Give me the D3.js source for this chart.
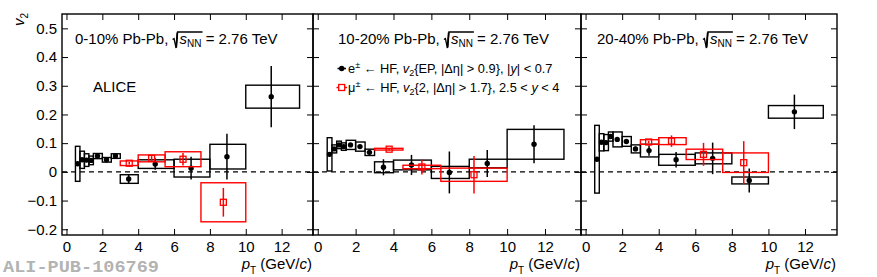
<!DOCTYPE html>
<html>
<head>
<meta charset="utf-8">
<script src="https://cdn.jsdelivr.net/npm/d3@7"></script>
<style>
  body { margin: 0; background: #fff; }
  text { font-family: "Liberation Sans", Arial, Helvetica, sans-serif; fill: #000; }
</style>
</head>
<body>
<div id="chart"></div>
<script>
///////////////////////////////////////////////////////////////////////////
///////////////////////////////// Data ////////////////////////////////////
///////////////////////////////////////////////////////////////////////////

var centralities = ["0-10%", "10-20%", "20-40%"]

// electrons from HF decays, |y| < 0.7 (same pT binning in all classes)
var ptBinsE = [[0.5,0.75],[0.75,1],[1,1.25],[1.25,1.5],[1.5,2],[2,2.5],[2.5,3],[3,4],[4,6],[6,8],[8,10],[10,13]]
var ptE = [0.62, 0.87, 1.12, 1.37, 1.73, 2.23, 2.73, 3.47, 4.95, 6.95, 8.95, 11.42]

var v2E_0010   = [0.028, 0.042, 0.041, 0.040, 0.055, 0.042, 0.055, -0.025, 0.027, 0.013, 0.053, 0.262]
var statE_0010 = [0.005, 0.004, 0.004, 0.004, 0.004, 0.004, 0.004, 0.017, 0.020, 0.040, 0.080, 0.107]
var systE_0010 = [0.061, 0.030, 0.022, 0.015, 0.009, 0.008, 0.008, 0.015, 0.015, 0.031, 0.043, 0.040]

var v2E_1020   = [0.061, 0.080, 0.094, 0.088, 0.094, 0.088, 0.068, 0.016, 0.024, -0.002, 0.029, 0.096]
var statE_1020 = [0.006, 0.005, 0.005, 0.005, 0.005, 0.005, 0.009, 0.028, 0.035, 0.073, 0.047, 0.066]
var systE_1020 = [0.058, 0.014, 0.013, 0.013, 0.016, 0.016, 0.011, 0.019, 0.017, 0.021, 0.015, 0.052]

var v2E_2040   = [0.044, 0.103, 0.102, 0.123, 0.113, 0.106, 0.080, 0.074, 0.042, 0.047, -0.030, 0.209]
var statE_2040 = [0.006, 0.006, 0.006, 0.006, 0.005, 0.005, 0.008, 0.018, 0.027, 0.055, 0.042, 0.060]
var systE_2040 = [0.118, 0.030, 0.028, 0.016, 0.026, 0.017, 0.014, 0.022, 0.019, 0.019, 0.012, 0.022]

// muons from HF decays, 2.5 < y < 4
var ptBinsMu_0010 = [[3,4],[4,5.5],[5.5,7.5],[7.5,10]]
var ptMu_0010   = [3.5, 4.75, 6.5, 8.75]
var v2Mu_0010   = [0.030, 0.047, 0.044, -0.106]
var statMu_0010 = [0.004, 0.008, 0.022, 0.050]
var systMu_0010 = [0.008, 0.012, 0.026, 0.068]

var ptBinsMu_1020 = [[3,4.5],[4.5,6.5],[6.5,10]]
var ptMu_1020   = [3.77, 5.5, 8.25]
var v2Mu_1020   = [0.079, 0.017, -0.010]
var statMu_1020 = [0.004, 0.026, 0.065]
var systMu_1020 = [0.003, 0.006, 0.023]

var ptBinsMu_2040 = [[3,4],[4,5.5],[5.5,7.5],[7.5,10]]
var ptMu_2040   = [3.45, 4.7, 6.45, 8.65]
var v2Mu_2040   = [0.104, 0.107, 0.061, 0.032]
var statMu_2040 = [0.004, 0.020, 0.040, 0.075]
var systMu_2040 = [0.008, 0.012, 0.018, 0.034]

var xTicks = [0, 2, 4, 6, 8, 10, 12]
var yTicks = [-0.2, -0.1, 0, 0.1, 0.2, 0.3, 0.4, 0.5]

///////////////////////////////////////////////////////////////////////////
//////////////////////////////// Layout ///////////////////////////////////
///////////////////////////////////////////////////////////////////////////

var totalWidth = 877, totalHeight = 277
var panelEdges = [62, 313, 581, 837]
var ptMax = [13.75, 13.9, 13.75]
var titleX = [75, 338, 597]
var frameTop = 14, frameBottom = 235

var series = [
  { e:  {bins: ptBinsE, pt: ptE, v2: v2E_0010, stat: statE_0010, syst: systE_0010},
    mu: {bins: ptBinsMu_0010, pt: ptMu_0010, v2: v2Mu_0010, stat: statMu_0010, syst: systMu_0010} },
  { e:  {bins: ptBinsE, pt: ptE, v2: v2E_1020, stat: statE_1020, syst: systE_1020},
    mu: {bins: ptBinsMu_1020, pt: ptMu_1020, v2: v2Mu_1020, stat: statMu_1020, syst: systMu_1020} },
  { e:  {bins: ptBinsE, pt: ptE, v2: v2E_2040, stat: statE_2040, syst: systE_2040},
    mu: {bins: ptBinsMu_2040, pt: ptMu_2040, v2: v2Mu_2040, stat: statMu_2040, syst: systMu_2040} }
]

var svg = d3.select("#chart").append("svg")
  .attr("width", totalWidth)
  .attr("height", totalHeight)

var y = d3.scaleLinear()
  .domain([-0.22, 0.55])
  .range([frameBottom, frameTop])

var yMinor = d3.range(-0.22, 0.551, 0.02).map(d => Math.round(d * 100) / 100)

centralities.forEach((c, i) => drawPanel(i))

///////////////////////////////////////////////////////////////////////////
/////////////////////////////// Panels ////////////////////////////////////
///////////////////////////////////////////////////////////////////////////

function drawPanel(i) {

  var x0 = panelEdges[i], x1 = panelEdges[i + 1]
  var x = d3.scaleLinear().domain([-0.25, ptMax[i]]).range([x0, x1])
  var g = svg.append("g")

  g.append("line")
    .attr("x1", x0).attr("x2", x1)
    .attr("y1", y(0)).attr("y2", y(0))
    .attr("stroke", "#000")
    .attr("stroke-width", 1.2)
    .attr("stroke-dasharray", "5,4")

  drawSeries(g, x, series[i].e, "#000", "circle")
  drawSeries(g, x, series[i].mu, "#f00", "square")

  // ticks on all four sides, pointing inwards
  var xMinor = d3.range(0, ptMax[i], 0.4).map(d => Math.round(d * 10) / 10)

  var bottom = g.append("g").attr("transform", "translate(0," + frameBottom + ")")
  bottom.call(d3.axisBottom(x).tickValues(xMinor).tickSize(-3).tickFormat(""))
  bottom.call(d3.axisBottom(x).tickValues(xTicks).tickSize(-6).tickPadding(6).tickFormat(d3.format("d")))

  var top = g.append("g").attr("transform", "translate(0," + frameTop + ")")
  top.call(d3.axisTop(x).tickValues(xMinor).tickSize(-3).tickFormat(""))
  top.call(d3.axisTop(x).tickValues(xTicks).tickSize(-6).tickFormat(""))

  var left = g.append("g").attr("transform", "translate(" + x0 + ",0)")
  left.call(d3.axisLeft(y).tickValues(yMinor).tickSize(-3).tickFormat(""))
  left.call(d3.axisLeft(y).tickValues(yTicks).tickSize(-6).tickPadding(5)
    .tickFormat(d => i === 0 ? (d < 0 ? "\u2212" + Math.abs(d) : String(d)) : ""))

  var right = g.append("g").attr("transform", "translate(" + x1 + ",0)")
  right.call(d3.axisRight(y).tickValues(yMinor).tickSize(-3).tickFormat(""))
  right.call(d3.axisRight(y).tickValues(yTicks).tickSize(-6).tickFormat(""))

  g.selectAll(".domain").remove()
  g.selectAll(".tick line").attr("stroke", "#000").attr("stroke-width", 1)
  g.selectAll(".tick text")
    .attr("font-family", "Liberation Sans, Arial, sans-serif")
    .attr("font-size", 15)
    .attr("fill", "#000")

  g.append("rect")
    .attr("x", x0).attr("y", frameTop)
    .attr("width", x1 - x0).attr("height", frameBottom - frameTop)
    .attr("fill", "none")
    .attr("stroke", "#000")
    .attr("stroke-width", 1.4)

  drawTitle(g, titleX[i], 43.5, centralities[i])

  // x axis title
  var xt = g.append("text")
    .attr("x", x1 - 1).attr("y", 269)
    .attr("text-anchor", "end")
    .style("font-size", "15px")
  xt.append("tspan").style("font-style", "italic").text("p")
  xt.append("tspan").attr("dy", 5).style("font-size", "10px").text("T")
  xt.append("tspan").attr("dy", -5).text(" (GeV/")
  xt.append("tspan").style("font-style", "italic").text("c")
  xt.append("tspan").text(")")
}

function drawSeries(g, x, s, color, marker) {

  var pts = s.pt.map((p, j) => ({
    pt: p, lo: s.bins[j][0], hi: s.bins[j][1],
    v: s.v2[j], stat: s.stat[j], syst: s.syst[j]
  }))

  g.append("g").selectAll("rect")
    .data(pts).join("rect")
    .attr("x", d => x(d.lo))
    .attr("width", d => x(d.hi) - x(d.lo))
    .attr("y", d => y(d.v + d.syst))
    .attr("height", d => y(d.v - d.syst) - y(d.v + d.syst))
    .attr("fill", "none")
    .attr("stroke", color)
    .attr("stroke-width", 1.4)

  g.append("g").selectAll("line")
    .data(pts).join("line")
    .attr("x1", d => x(d.pt)).attr("x2", d => x(d.pt))
    .attr("y1", d => y(d.v + d.stat)).attr("y2", d => y(d.v - d.stat))
    .attr("stroke", color)
    .attr("stroke-width", 1.5)

  if (marker === "circle") {
    g.append("g").selectAll("circle")
      .data(pts).join("circle")
      .attr("cx", d => x(d.pt)).attr("cy", d => y(d.v))
      .attr("r", 2.7)
      .attr("fill", color)
  } else {
    g.append("g").selectAll("rect")
      .data(pts).join("rect")
      .attr("x", d => x(d.pt) - 3).attr("y", d => y(d.v) - 3)
      .attr("width", 6).attr("height", 6)
      .attr("fill", "none")
      .attr("stroke", color)
      .attr("stroke-width", 1.3)
  }
}

function drawTitle(g, tx, ty, cent) {
  var first = cent + " Pb-Pb, "
  var t = g.append("text").attr("x", tx).attr("y", ty).style("font-size", "15px")
  t.append("tspan").text(first)
  t.append("tspan").attr("dx", 7).style("font-style", "italic").text("s")
  t.append("tspan").attr("dy", 3.5).style("font-size", "10px").text("NN")
  t.append("tspan").attr("dy", -3.5).text(" = 2.76 TeV")

  // radical sign and bar over s_NN
  var node = t.node()
  var sx = node.getStartPositionOfChar(first.length).x
  var ex = node.getEndPositionOfChar(first.length + 2).x
  g.append("path")
    .attr("d", "M" + (sx - 7) + "," + (ty - 4) + "L" + (sx - 5.5) + "," + (ty - 5) +
      "L" + (sx - 3.5) + "," + (ty + 4.5) + "L" + (sx - 2) + "," + (ty - 11.5) +
      "L" + (ex + 1) + "," + (ty - 11.5))
    .attr("fill", "none")
    .attr("stroke", "#000")
    .attr("stroke-width", 1.3)
  g.append("line")
    .attr("x1", sx - 3.3).attr("x2", sx - 2.2)
    .attr("y1", ty + 4).attr("y2", ty - 11)
    .attr("stroke", "#000").attr("stroke-width", 1.8)
}

///////////////////////////////////////////////////////////////////////////
///////////////////////////// Annotations /////////////////////////////////
///////////////////////////////////////////////////////////////////////////

// y axis title
var yt = svg.append("text")
  .attr("transform", "translate(24,13) rotate(-90)")
  .attr("text-anchor", "end")
  .style("font-size", "15px")
yt.append("tspan").style("font-style", "italic").text("v")
yt.append("tspan").attr("dy", 4).style("font-size", "10px").text("2")

svg.append("text")
  .attr("x", 93).attr("y", 91.5)
  .style("font-size", "15px")
  .text("ALICE")

// legend (middle panel)
var legend = svg.append("g")
legend.append("line")
  .attr("x1", 337.5).attr("x2", 346).attr("y1", 68.5).attr("y2", 68.5)
  .attr("stroke", "#000").attr("stroke-width", 1.5)
legend.append("circle").attr("cx", 341.7).attr("cy", 68.5).attr("r", 2.7).attr("fill", "#000")
legend.append("line")
  .attr("x1", 336.5).attr("x2", 347).attr("y1", 87.5).attr("y2", 87.5)
  .attr("stroke", "#f00").attr("stroke-width", 1.5)
legend.append("rect").attr("x", 338.7).attr("y", 84.5).attr("width", 6).attr("height", 6)
  .attr("fill", "#fff").attr("stroke", "#f00").attr("stroke-width", 1.3)

var l1 = legend.append("text").attr("x", 348).attr("y", 72.5).style("font-size", "12.8px")
l1.append("tspan").text("e")
l1.append("tspan").attr("dy", -4.5).style("font-size", "9px").text("\u00b1")
l1.append("tspan").attr("dy", 4.5).text(" \u2190 HF, ")
l1.append("tspan").style("font-style", "italic").text("v")
l1.append("tspan").attr("dy", 3.5).style("font-size", "9px").text("2")
l1.append("tspan").attr("dy", -3.5).text("{EP, |\u0394\u03b7| > 0.9}, |")
l1.append("tspan").style("font-style", "italic").text("y")
l1.append("tspan").text("| < 0.7")

var l2 = legend.append("text").attr("x", 348).attr("y", 91.5).style("font-size", "12.8px")
l2.append("tspan").text("\u03bc")
l2.append("tspan").attr("dy", -4.5).style("font-size", "9px").text("\u00b1")
l2.append("tspan").attr("dy", 4.5).text(" \u2190 HF, ")
l2.append("tspan").style("font-style", "italic").text("v")
l2.append("tspan").attr("dy", 3.5).style("font-size", "9px").text("2")
l2.append("tspan").attr("dy", -3.5).text("{2, |\u0394\u03b7| > 1.7}, 2.5 < ")
l2.append("tspan").style("font-style", "italic").text("y")
l2.append("tspan").text(" < 4")

// publication tag
svg.append("text")
  .attr("x", 3).attr("y", 272)
  .attr("textLength", 156)
  .attr("lengthAdjust", "spacingAndGlyphs")
  .style("font-family", "Liberation Mono, Courier New, monospace")
  .style("font-weight", "bold")
  .style("font-size", "16px")
  .style("fill", "#b3b3b3")
  .text("ALI-PUB-106769")
</script>
</body>
</html>
